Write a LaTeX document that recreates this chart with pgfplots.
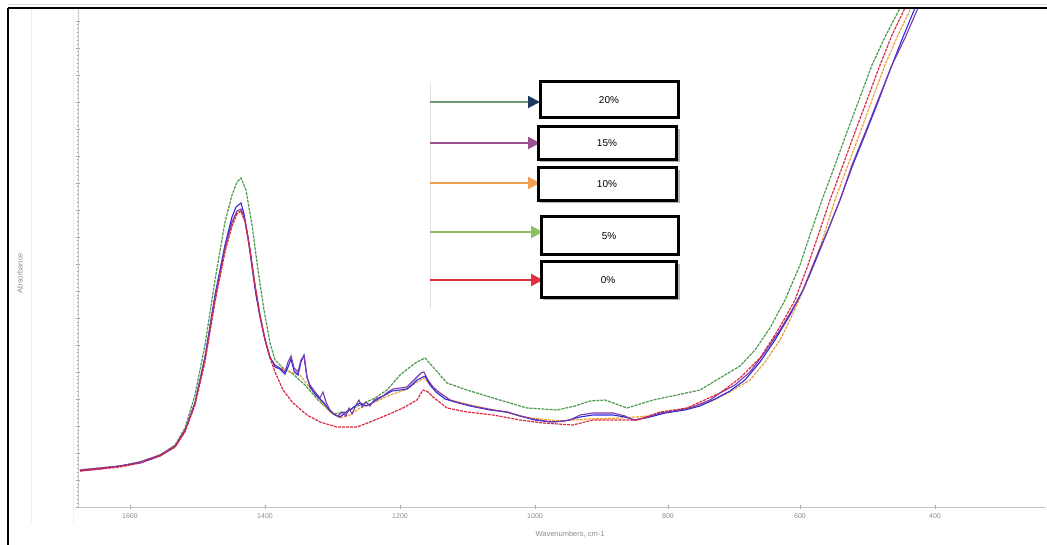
\documentclass[border=0pt]{standalone}
\usepackage{fontspec}
\setmainfont{Liberation Sans}
\usepackage{pgfplots}
\pgfplotsset{compat=1.18}
\usetikzlibrary{arrows.meta}
\definecolor{cgreen}{HTML}{4C9A4C}
\definecolor{cred}{HTML}{DC2840}
\definecolor{corange}{HTML}{E8A040}
\definecolor{cpurple}{HTML}{7A38A8}
\definecolor{cblue}{HTML}{2828E0}
\definecolor{agreen}{HTML}{6E9A70}
\definecolor{anavy}{HTML}{1F3A60}
\definecolor{apurple}{HTML}{9A5090}
\definecolor{aorange}{HTML}{F0A050}
\definecolor{alight}{HTML}{8CC060}
\definecolor{ared}{HTML}{E03040}
\begin{document}
\begin{tikzpicture}[x=1pt,y=1pt]
\useasboundingbox (0,0) rectangle (1047,545);
\draw[gray!25, line width=1pt] (8,540) -- (1047,540);
\draw[gray!12, line width=1pt] (31,537) -- (31,22);
\draw[gray!12, line width=1pt] (73,537) -- (73,22);
\begin{axis}[
  at={(78pt,38pt)}, anchor=south west,
  scale only axis, width=968pt, height=499pt,
  xmin=78, xmax=1046, ymin=0, ymax=499,
  axis x line*=bottom, axis y line*=left,
  axis line style={gray!45, line width=0.8pt},
  xtick={130,265,400,535,668,800,935},
  xticklabels={1600,1400,1200,1000,800,600,400},
  minor x tick num=3,
  ytick={0,27,...,499}, yticklabels={},
  minor y tick num=6,
  tick style={gray!75, line width=0.7pt},
  major tick length=4pt, minor tick length=2.5pt,
  tick align=center,
  ticklabel style={font=\fontsize{7}{8}\selectfont, text=gray!90},
  xticklabel style={yshift=-1pt},
  xlabel={Wavenumbers, cm-1},
  xlabel style={font=\fontsize{7.5}{8}\selectfont, text=gray!90, yshift=-6pt, xshift=8pt},
  clip=true,
]
% 5% (green)
\addplot[cgreen, line width=1.2pt, dash pattern=on 3pt off 1pt] coordinates {
(80,37)(100,39)(120,41)(140,45)(160,52)(175,62)(185,79)(195,112)(205,162)(215,227)(225,285)(232,312)(237,325)(241,329)(246,317)(252,282)(258,237)(264,197)(270,164)(275,147)(283,139)(293,133)(305,122)(318,107)(333,93)(345,95)(360,102)(375,109)(387,117)(400,132)(410,140)(417,145)(425,149)(433,140)(447,124)(467,117)(493,109)(527,99)(557,97)(575,101)(590,106)(605,107)(627,99)(640,103)(653,107)(677,112)(700,117)(720,129)(740,141)(755,157)(770,179)(785,207)(800,242)(811,275)(822,307)(835,342)(847,375)(859,407)(872,442)(886,472)(900,499)(905,510)};
% 10% (orange)
\addplot[corange, line width=1.2pt, dash pattern=on 3pt off 1pt] coordinates {
(80,37)(100,39)(120,41)(140,45)(160,52)(175,61)(185,77)(195,104)(205,148)(215,208)(225,258)(232,283)(237,295)(241,296)(245,285)(250,255)(255,220)(260,190)(265,167)(270,150)(275,142)(280,139)(290,135)(300,132)(310,119)(320,107)(330,95)(340,89)(350,92)(360,99)(375,105)(390,112)(405,117)(417,125)(424,129)(433,119)(450,107)(470,102)(500,96)(530,89)(560,86)(590,88)(620,89)(650,91)(680,97)(710,105)(730,115)(750,127)(765,145)(780,167)(790,187)(799,207)(812,237)(824,272)(835,307)(848,342)(860,374)(872,407)(885,442)(898,472)(911,499)(916,510)};
% 20% (blue)
\addplot[cblue, line width=1.1pt] coordinates {
(80,36)(100,38)(120,41)(140,44)(160,51)(175,60)(185,76)(195,104)(205,150)(215,212)(225,262)(232,290)(236,300)(241,304)(244,293)(248,270)(252,240)(256,212)(260,190)(265,168)(270,150)(275,140)(280,138)(285,133)(288,140)(291,148)(294,136)(298,132)(301,145)(304,152)(307,130)(310,120)(315,113)(320,108)(325,103)(330,96)(335,92)(340,90)(345,94)(350,97)(355,101)(360,104)(366,101)(372,104)(378,108)(385,112)(392,116)(400,117)(407,118)(412,122)(417,127)(421,129)(425,131)(430,122)(436,115)(445,108)(455,105)(470,101)(490,97)(507,95)(520,91)(535,87)(550,85)(565,86)(580,90)(593,92)(613,92)(625,90)(635,87)(650,90)(665,94)(685,97)(700,101)(715,108)(730,116)(745,127)(760,145)(775,167)(790,192)(803,217)(815,245)(828,277)(840,307)(852,340)(865,372)(878,405)(890,437)(903,470)(915,499)(920,510)};
% 15% (purple)
\addplot[cpurple, line width=1.1pt] coordinates {
(80,37)(100,39)(120,41)(140,45)(160,52)(175,61)(185,77)(195,104)(205,150)(215,210)(225,260)(232,285)(237,296)(241,298)(245,287)(250,258)(255,222)(260,192)(265,167)(270,149)(275,142)(280,139)(285,135)(288,145)(291,151)(294,139)(298,135)(301,147)(304,151)(307,129)(310,122)(315,115)(320,109)(323,115)(326,105)(330,97)(334,93)(338,91)(342,95)(346,91)(349,99)(352,93)(356,102)(359,107)(362,100)(366,105)(370,101)(374,107)(378,109)(383,111)(388,115)(393,118)(400,119)(407,120)(412,125)(417,130)(421,134)(424,135)(428,127)(433,120)(440,114)(450,107)(460,104)(477,100)(493,97)(507,95)(520,91)(533,88)(545,86)(555,85)(570,87)(580,92)(593,94)(613,94)(625,91)(633,87)(645,89)(660,94)(680,97)(693,100)(710,107)(720,114)(735,122)(750,135)(765,155)(780,177)(792,197)(803,217)(815,247)(828,277)(840,307)(852,342)(865,374)(878,407)(892,442)(905,469)(918,499)(923,510)};
% 0% (red)
\addplot[cred, line width=1.2pt, dash pattern=on 3pt off 1pt] coordinates {
(80,36)(100,38)(120,40)(140,44)(160,51)(175,60)(185,75)(195,102)(205,145)(215,205)(225,255)(232,281)(237,293)(241,296)(245,285)(250,257)(255,222)(260,192)(265,167)(270,149)(275,135)(283,117)(293,104)(307,92)(320,85)(337,80)(357,80)(370,85)(387,92)(403,99)(417,107)(423,117)(428,115)(433,110)(447,99)(467,95)(493,92)(520,87)(543,84)(573,82)(593,87)(613,87)(637,87)(660,95)(687,99)(720,114)(740,129)(760,149)(775,172)(785,189)(795,207)(808,242)(820,277)(830,307)(843,342)(855,375)(867,407)(880,442)(892,472)(905,499)(910,510)};
% annotation
\draw[gray!25, line width=1pt] (axis cs:430,424) -- (axis cs:430,199);
\draw[agreen, line width=2pt, -{Triangle[length=12pt,width=12pt,color=anavy]}] (axis cs:430,405) -- (axis cs:540,405);
\draw[apurple, line width=2pt, -{Triangle[length=12pt,width=12pt]}] (axis cs:430,364) -- (axis cs:540,364);
\draw[aorange, line width=2pt, -{Triangle[length=12pt,width=12pt]}] (axis cs:430,324) -- (axis cs:540,324);
\draw[alight, line width=2pt, -{Triangle[length=12pt,width=12pt]}] (axis cs:430,275) -- (axis cs:543,275);
\draw[ared, line width=2pt, -{Triangle[length=12pt,width=12pt]}] (axis cs:430,227) -- (axis cs:543,227);
\fill[gray!60] (axis cs:540,378) rectangle (axis cs:680,345);
\fill[gray!60] (axis cs:540,337) rectangle (axis cs:680,304);
\fill[gray!60] (axis cs:543,243) rectangle (axis cs:680,207);
\draw[black, line width=3pt, fill=white] (axis cs:540,425) rectangle (axis cs:678,389);
\draw[black, line width=3pt, fill=white] (axis cs:538,380) rectangle (axis cs:676,347);
\draw[black, line width=3pt, fill=white] (axis cs:538,339) rectangle (axis cs:676,306);
\draw[black, line width=3pt, fill=white] (axis cs:541,290) rectangle (axis cs:678,252);
\draw[black, line width=3pt, fill=white] (axis cs:541,245) rectangle (axis cs:676,209);
\node[font=\fontsize{10}{11}\selectfont] at (axis cs:609,407) {20\%};
\node[font=\fontsize{10}{11}\selectfont] at (axis cs:607,363.5) {15\%};
\node[font=\fontsize{10}{11}\selectfont] at (axis cs:607,322.5) {10\%};
\node[font=\fontsize{10}{11}\selectfont] at (axis cs:609,271) {5\%};
\node[font=\fontsize{10}{11}\selectfont] at (axis cs:608,227) {0\%};
\end{axis}
\draw[black, line width=2pt] (8,537) -- (1047,537);
\draw[black, line width=2pt] (8,537) -- (8,0);
\node[rotate=90, font=\fontsize{7.5}{8}\selectfont, text=gray!90] at (20,272) {Absorbance};
\end{tikzpicture}
\end{document}
